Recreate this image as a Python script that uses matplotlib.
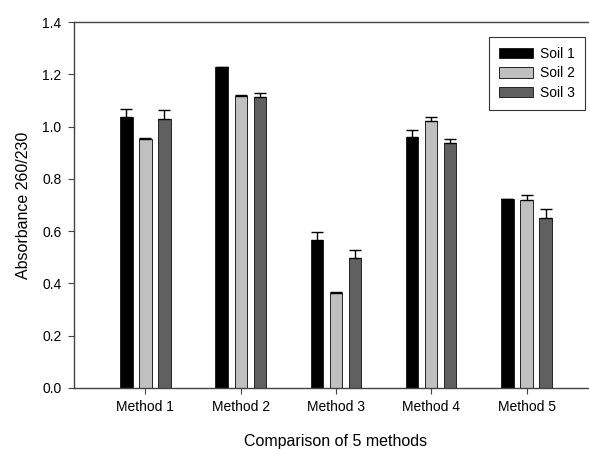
import numpy as np
import matplotlib.pyplot as plt

plt.rcParams['font.family'] = ['Liberation Sans', 'DejaVu Sans']

# Data
methods = ['Method 1', 'Method 2', 'Method 3', 'Method 4', 'Method 5']
soils = ['Soil 1', 'Soil 2', 'Soil 3']
soil1 = [1.036, 1.229, 0.566, 0.959, 0.722]
soil2 = [0.951, 1.117, 0.362, 1.021, 0.718]
soil3 = [1.029, 1.114, 0.498, 0.938, 0.652]
err1 = [0.031, 0.0, 0.031, 0.028, 0.0]
err2 = [0.004, 0.003, 0.005, 0.017, 0.019]
err3 = [0.036, 0.014, 0.030, 0.015, 0.032]

colors = ['#000000', '#c0c0c0', '#606060']

fig = plt.figure(figsize=(5.89, 4.49), dpi=100)
ax = fig.add_axes([0.1256, 0.1359, 0.8896, 0.815])

x = np.arange(len(methods))
width = 0.13
offsets = [-0.2, 0.0, 0.2]
values = [soil1, soil2, soil3]
errors = [err1, err2, err3]

for i in range(3):
    ax.bar(x + offsets[i], values[i], width, color=colors[i], edgecolor='#222222',
           linewidth=0.7, label=soils[i], zorder=2)
    ax.errorbar(x + offsets[i], values[i],
                yerr=[np.zeros(len(methods)), errors[i]],
                fmt='none', ecolor='black', elinewidth=1, capsize=4.3,
                capthick=1, zorder=3)

ax.set_xlim(-0.75, 4.75)
ax.set_ylim(0, 1.4)
ax.set_yticks(np.arange(0, 1.41, 0.2))
ax.set_yticklabels(['%.1f' % v for v in np.arange(0, 1.41, 0.2)])
ax.set_xticks(x)
ax.set_xticklabels(methods)

for s in ['left', 'top', 'bottom']:
    ax.spines[s].set_color('#444444')
    ax.spines[s].set_linewidth(1)
ax.spines['right'].set_visible(False)
ax.tick_params(axis='both', direction='out', length=4, color='#444444',
               labelsize=10, pad=5)

ax.set_xlabel('Comparison of 5 methods', fontsize=11.5, labelpad=14)
ax.set_ylabel('Absorbance 260/230', fontsize=11.5, labelpad=8)

leg = ax.legend(loc='upper left', bbox_to_anchor=(0.792, 0.959), fontsize=10,
                frameon=True, fancybox=False, edgecolor='black',
                handlelength=2.5, handleheight=0.8, borderpad=0.7,
                labelspacing=0.4, handletextpad=0.5, borderaxespad=0)
leg.get_frame().set_linewidth(0.8)

fig.savefig('out.png', dpi=100)
